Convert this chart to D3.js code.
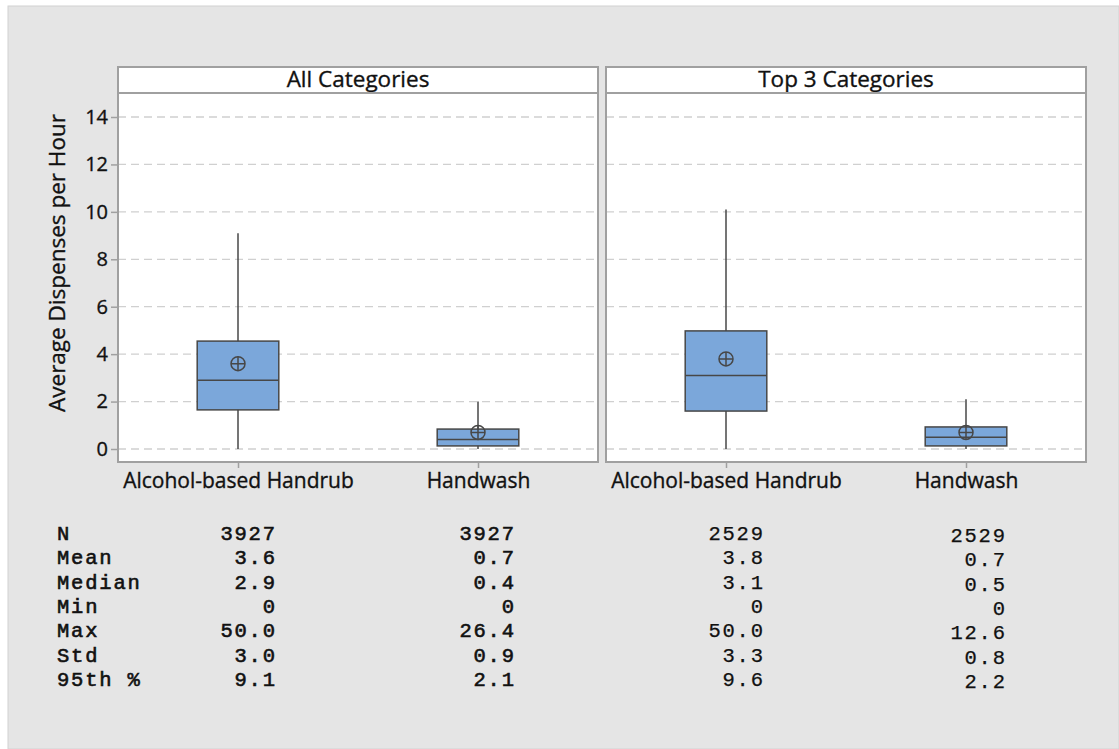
<!DOCTYPE html>
<html>
<head>
<meta charset="utf-8">
<script src="https://cdn.jsdelivr.net/npm/d3@7"></script>
<style>
  html, body { margin: 0; padding: 0; background: #ffffff; }
  svg { display: block; }
</style>
</head>
<body>
<svg id="chart" width="1119" height="749"></svg>
<script>
// Panels and categories
const panels = ["All Categories", "Top 3 Categories"];
const categories = ["Alcohol-based Handrub", "Handwash"];

// Box-plot summary per panel, ordered as in `categories`
const q1Values      = [[1.65, 0.13], [1.6, 0.13]];
const medianValues  = [[2.9, 0.4],   [3.1, 0.5]];
const q3Values      = [[4.55, 0.84], [4.98, 0.93]];
const meanValues    = [[3.6, 0.7],   [3.8, 0.7]];
const whiskerLow    = [[0, 0],       [0, 0]];
const whiskerHigh   = [[9.1, 2.0],   [10.1, 2.1]];

// Y axis ticks
const yTicks = [0, 2, 4, 6, 8, 10, 12, 14];

// Summary statistics table
const statLabels = ["N", "Mean", "Median", "Min", "Max", "Std", "95th %"];
const statColumns = [
  ["3927", "3.6", "2.9", "0", "50.0", "3.0", "9.1"],
  ["3927", "0.7", "0.4", "0", "26.4", "0.9", "2.1"],
  ["2529", "3.8", "3.1", "0", "50.0", "3.3", "9.6"],
  ["2529", "0.7", "0.5", "0", "12.6", "0.8", "2.2"]
];

const svg = d3.select("#chart");
const W = 1119, H = 749;
const sansFont = "'Open Sans', 'Noto Sans', sans-serif";
const monoFont = "'Liberation Mono', 'DejaVu Sans Mono', monospace";

// Grey page background
svg.append("rect").attr("x", 8).attr("y", 6).attr("width", W - 8).attr("height", H - 6)
  .attr("fill", "#e5e5e5").attr("stroke", "#d2d2d2").attr("stroke-width", 1);

const panelLeft = [118, 606];
const panelWidth = 480;
const stripTop = 67, stripBottom = 93, plotBottom = 462;

const y = d3.scaleLinear().domain([0, 14]).range([449, 117]);

const frameColor = "#a0a0a0";
const darkStroke = "#474747";
const boxFill = "#7ba7da";
const textColor = "#111";

// slightly heavier sans text
function sansText(sel, size) {
  return sel.attr("font-family", sansFont).attr("font-size", size)
    .attr("fill", textColor).attr("stroke", textColor).attr("stroke-width", 0.35);
}

panels.forEach((title, p) => {
  const x0 = panelLeft[p];
  const x = d3.scalePoint().domain(categories).range([x0, x0 + panelWidth]).padding(0.5);
  const boxW = x.step() * 0.34;
  const g = svg.append("g");

  // plot area
  g.append("rect").attr("x", x0).attr("y", stripTop).attr("width", panelWidth)
    .attr("height", plotBottom - stripTop).attr("fill", "#ffffff");

  // dashed gridlines
  g.selectAll("line.grid").data(yTicks).join("line").attr("class", "grid")
    .attr("x1", x0).attr("x2", x0 + panelWidth)
    .attr("y1", d => y(d)).attr("y2", d => y(d))
    .attr("stroke", "#d0d0d0").attr("stroke-width", 1.3).attr("stroke-dasharray", "8,5");

  // boxes
  categories.forEach((c, i) => {
    const cx = x(c);
    g.append("line").attr("x1", cx).attr("x2", cx)
      .attr("y1", y(whiskerLow[p][i])).attr("y2", y(whiskerHigh[p][i]))
      .attr("stroke", darkStroke).attr("stroke-width", 1.5);
    g.append("rect").attr("x", cx - boxW / 2).attr("width", boxW)
      .attr("y", y(q3Values[p][i])).attr("height", y(q1Values[p][i]) - y(q3Values[p][i]))
      .attr("fill", boxFill).attr("stroke", darkStroke).attr("stroke-width", 1.5);
    g.append("line").attr("x1", cx - boxW / 2).attr("x2", cx + boxW / 2)
      .attr("y1", y(medianValues[p][i])).attr("y2", y(medianValues[p][i]))
      .attr("stroke", darkStroke).attr("stroke-width", 1.5);
    // mean symbol: circle with cross
    const my = y(meanValues[p][i]), r = 7;
    g.append("circle").attr("cx", cx).attr("cy", my).attr("r", r)
      .attr("fill", "none").attr("stroke", darkStroke).attr("stroke-width", 1.5);
    g.append("path").attr("d", `M${cx - r},${my}H${cx + r}M${cx},${my - r}V${my + r}`)
      .attr("stroke", darkStroke).attr("stroke-width", 1.5);
  });

  // strip header
  g.append("rect").attr("x", x0).attr("y", stripTop).attr("width", panelWidth)
    .attr("height", stripBottom - stripTop).attr("fill", "#ffffff")
    .attr("stroke", frameColor).attr("stroke-width", 2);
  sansText(g.append("text"), 22.5).attr("x", x0 + panelWidth / 2).attr("y", 87)
    .attr("text-anchor", "middle").text(title);

  // frame
  g.append("rect").attr("x", x0).attr("y", stripBottom).attr("width", panelWidth)
    .attr("height", plotBottom - stripBottom).attr("fill", "none")
    .attr("stroke", frameColor).attr("stroke-width", 2);

  // x axis
  const xAxis = g.append("g").attr("transform", `translate(0,${plotBottom + 1})`)
    .call(d3.axisBottom(x).tickSize(5).tickSizeOuter(0));
  xAxis.select(".domain").remove();
  xAxis.selectAll(".tick line").attr("stroke", frameColor).attr("stroke-width", 1.5);
  sansText(xAxis.selectAll(".tick text"), 21).attr("dy", null).attr("y", 25);

  // y axis on first panel
  if (p === 0) {
    const yAxis = g.append("g").attr("transform", `translate(${x0 - 1},0)`)
      .call(d3.axisLeft(y).tickValues(yTicks).tickSize(6).tickSizeOuter(0));
    yAxis.select(".domain").remove();
    yAxis.selectAll(".tick line").attr("stroke", frameColor).attr("stroke-width", 1.5);
    sansText(yAxis.selectAll(".tick text"), 20).attr("x", -9);
  }
});

// y axis title
sansText(svg.append("text"), 22.5).attr("transform", `translate(65,263) rotate(-90)`)
  .attr("text-anchor", "middle").text("Average Dispenses per Hour");

// statistics table
const rowY = d3.scaleLinear().domain([0, statLabels.length - 1]).range([540, 686]);
const colRight = [275, 514, 763, 1005];
const colShift = [0, 0, 0, 2];
const colStroke = [0.6, 0.6, 0.25, 0.25];
const monoSize = 20.5, monoSpacing = 1.8;

svg.append("g").selectAll("text").data(statLabels).join("text")
  .attr("x", 57).attr("y", (d, i) => rowY(i))
  .attr("font-family", monoFont).attr("font-size", monoSize)
  .attr("letter-spacing", monoSpacing)
  .attr("fill", textColor).attr("stroke", textColor).attr("stroke-width", 0.6)
  .text(d => d);

statColumns.forEach((col, c) => {
  svg.append("g").selectAll("text").data(col).join("text")
    .attr("x", colRight[c] + monoSpacing).attr("y", (d, i) => rowY(i) + colShift[c])
    .attr("text-anchor", "end")
    .attr("font-family", monoFont).attr("font-size", monoSize)
    .attr("letter-spacing", monoSpacing)
    .attr("fill", textColor).attr("stroke", textColor).attr("stroke-width", colStroke[c])
    .text(d => d);
});
</script>
</body>
</html>
